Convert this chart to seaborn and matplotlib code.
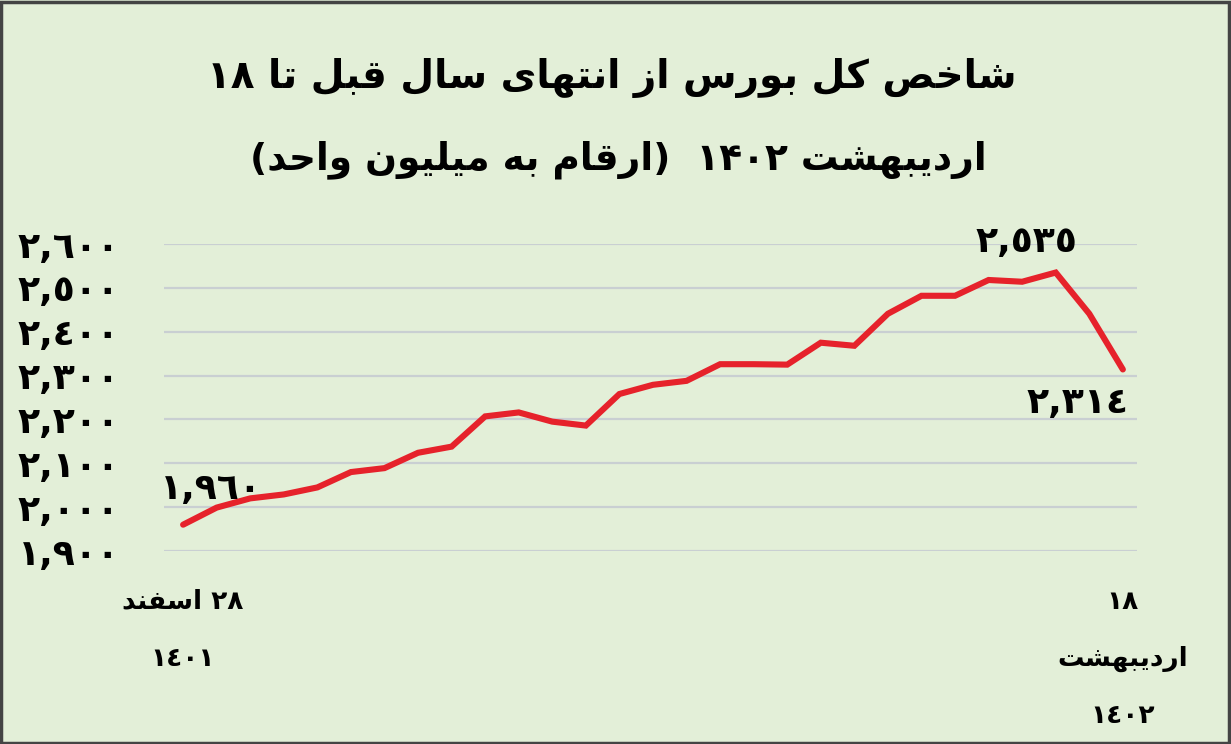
import re
import matplotlib
matplotlib.use("Agg")
import matplotlib.pyplot as plt
import matplotlib.ticker as mticker
from matplotlib.patches import Rectangle
import seaborn as sns

# ----------------------------
# Data
# ----------------------------
day_index = list(range(29))
index_values = [1960, 1999, 2020, 2029, 2045, 2080, 2089, 2124, 2138, 2207,
                2216, 2195, 2186, 2258, 2279, 2288, 2326, 2326, 2325, 2375,
                2368, 2441, 2482, 2482, 2518, 2514, 2535, 2441, 2314]
y_ticks = [1900, 2000, 2100, 2200, 2300, 2400, 2500, 2600]

title_line1 = "شاخص کل بورس از انتهای سال قبل تا ۱۸"
title_line2 = "اردیبهشت ۱۴۰۲  (ارقام به میلیون واحد)"
x_tick_pos = [0, 28]
x_tick_labels = ["۲۸ اسفند\n۱٤۰۱", "۱۸\nاردیبهشت\n۱٤۰۲"]
# (index, label, offset in pixels)
point_labels = [(0, "۱,۹٦۰", (28, 36)),
                (26, "۲,٥۳٥", (-29, 31)),
                (28, "۲,۳۱٤", (-45, -34))]

BG = "#e3efd8"
RED = "#e6222b"
GRID = "#c9cfd2"

# ----------------------------
# Minimal Persian shaping (matplotlib has no complex text layout)
# forms: isolated, final, initial, medial
# ----------------------------
FORMS = {
    "ا": ("\ufe8d", "\ufe8e", None, None),
    "ب": ("\ufe8f", "\ufe90", "\ufe91", "\ufe92"),
    "ت": ("\ufe95", "\ufe96", "\ufe97", "\ufe98"),
    "ح": ("\ufea1", "\ufea2", "\ufea3", "\ufea4"),
    "خ": ("\ufea5", "\ufea6", "\ufea7", "\ufea8"),
    "د": ("\ufea9", "\ufeaa", None, None),
    "ر": ("\ufead", "\ufeae", None, None),
    "ز": ("\ufeaf", "\ufeb0", None, None),
    "س": ("\ufeb1", "\ufeb2", "\ufeb3", "\ufeb4"),
    "ش": ("\ufeb5", "\ufeb6", "\ufeb7", "\ufeb8"),
    "ص": ("\ufeb9", "\ufeba", "\ufebb", "\ufebc"),
    "ف": ("\ufed1", "\ufed2", "\ufed3", "\ufed4"),
    "ق": ("\ufed5", "\ufed6", "\ufed7", "\ufed8"),
    "ل": ("\ufedd", "\ufede", "\ufedf", "\ufee0"),
    "م": ("\ufee1", "\ufee2", "\ufee3", "\ufee4"),
    "ن": ("\ufee5", "\ufee6", "\ufee7", "\ufee8"),
    "ه": ("\ufee9", "\ufeea", "\ufeeb", "\ufeec"),
    "و": ("\ufeed", "\ufeee", None, None),
    "ک": ("\ufb8e", "\ufb8f", "\ufb90", "\ufb91"),
    "ی": ("\ufbfc", "\ufbfd", "\ufbfe", "\ufbff"),
}
DIGITS = "0123456789٠١٢٣٤٥٦٧٨٩۰۱۲۳۴۵۶۷۸۹,"
MIRROR = {"(": ")", ")": "("}


def shape_line(text):
    out = []
    for i, c in enumerate(text):
        if c not in FORMS:
            out.append(c)
            continue
        prev = text[i - 1] if i > 0 else None
        nxt = text[i + 1] if i + 1 < len(text) else None
        join_prev = prev in FORMS and FORMS[prev][2] is not None
        join_next = nxt in FORMS and FORMS[c][2] is not None
        iso, fin, ini, med = FORMS[c]
        if join_prev and join_next:
            out.append(med)
        elif join_prev:
            out.append(fin)
        elif join_next:
            out.append(ini)
        else:
            out.append(iso)
    shaped = "".join(out)
    # visual order: reverse everything except digit runs
    tokens = re.findall(f"[{DIGITS}]+|[^{DIGITS}]+", shaped)
    visual = []
    for tok in reversed(tokens):
        if tok[0] in DIGITS:
            visual.append(tok)
        else:
            visual.append("".join(MIRROR.get(ch, ch) for ch in reversed(tok)))
    return "".join(visual)


def fa(text):
    return "\n".join(shape_line(line) for line in text.split("\n"))


def to_arabic_digits(s):
    return s.translate(str.maketrans("0123456789", "٠١٢٣٤٥٦٧٨٩"))


# ----------------------------
# Plot
# ----------------------------
sns.set_style("white")
plt.rcParams["font.family"] = ["DejaVu Sans"]
plt.rcParams["text.color"] = "black"
plt.rcParams["xtick.color"] = "black"
plt.rcParams["ytick.color"] = "black"

fig = plt.figure(figsize=(12.31, 7.44), dpi=100, facecolor=BG)
fig.patches.append(Rectangle((0.001, 0.002), 0.997, 0.995, transform=fig.transFigure,
                             fill=False, edgecolor="#444444", linewidth=2.5))

ax = fig.add_axes([0.1332, 0.2594, 0.7904, 0.4126])
ax.set_facecolor(BG)

sns.lineplot(x=day_index, y=index_values, ax=ax, color=RED, linewidth=4.4,
             solid_joinstyle="miter", solid_capstyle="round")

ax.set_xlim(-0.57, 28.42)
ax.set_ylim(1900, 2600)
ax.set_yticks(y_ticks)
ax.yaxis.set_major_formatter(mticker.FuncFormatter(
    lambda v, p: to_arabic_digits(f"{int(v):,}")))
ax.yaxis.grid(True, color=GRID, linewidth=1.6)
ax.xaxis.grid(False)
ax.set_axisbelow(True)
for s in ax.spines.values():
    s.set_visible(False)
ax.tick_params(axis="y", length=0, pad=32, labelsize=26)
ax.tick_params(axis="x", length=0, pad=27, labelsize=19)
for lab in ax.get_yticklabels():
    lab.set_fontweight("bold")

ax.set_xticks(x_tick_pos)
ax.set_xticklabels([fa(t) for t in x_tick_labels], fontweight="bold",
                   linespacing=2.55, va="top")
ax.set_xlabel("")
ax.set_ylabel("")

for i, label, off in point_labels:
    ax.annotate(label, (day_index[i], index_values[i]), xytext=off,
                textcoords="offset pixels", ha="center", va="center",
                fontsize=26, fontweight="bold", color="black")

fig.text(0.497, 0.895, fa(title_line1), ha="center", va="center",
         fontsize=28, fontweight="bold", color="black")
fig.text(0.502, 0.785, fa(title_line2), ha="center", va="center",
         fontsize=27, fontweight="bold", color="black")

fig.savefig("out.png", dpi=100, facecolor=BG)
